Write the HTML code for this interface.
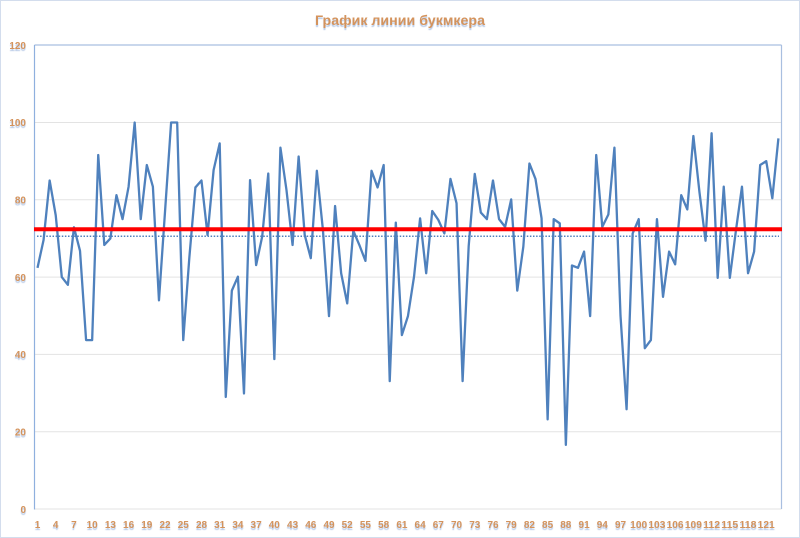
<!DOCTYPE html>
<html>
<head>
<meta charset="utf-8">
<style>
  html,body{margin:0;padding:0;background:#fff;}
  body{width:800px;height:538px;overflow:hidden;}
  svg{display:block;}
  .lbl{font-family:"Liberation Sans",sans-serif;font-weight:bold;fill:#d4935c;text-shadow:0 2px 1px rgba(120,155,210,0.55);}
</style>
</head>
<body>
<svg width="800" height="538" viewBox="0 0 800 538" xmlns="http://www.w3.org/2000/svg">
  <rect x="0.5" y="0.5" width="799" height="537" fill="#ffffff" stroke="#d3dded" stroke-width="1"/>
  <!-- title -->
  <text class="lbl" x="400" y="25" text-anchor="middle" font-size="14" textLength="170" lengthAdjust="spacingAndGlyphs">График линии букмкера</text>

  <!-- gridlines -->
  <g stroke="#e3e3e3" stroke-width="1">
    <line x1="35" y1="122.5" x2="781" y2="122.5"/>
    <line x1="35" y1="199.8" x2="781" y2="199.8"/>
    <line x1="35" y1="277.1" x2="781" y2="277.1"/>
    <line x1="35" y1="354.4" x2="781" y2="354.4"/>
    <line x1="35" y1="431.7" x2="781" y2="431.7"/>
    <line x1="35" y1="509" x2="781.5" y2="509"/>
  </g>
  <!-- plot frame -->
  <line x1="34.5" y1="45" x2="781.5" y2="45" stroke="#a9bfe0" stroke-width="1.2"/>
  <line x1="781.5" y1="45" x2="781.5" y2="509" stroke="#a9bfe0" stroke-width="1.2"/>
  <line x1="34.5" y1="45" x2="34.5" y2="509.5" stroke="#8fb0de" stroke-width="1.2"/>

  <!-- y labels -->
  <g class="lbl" font-size="10" text-anchor="end">
    <text x="26" y="49">120</text>
    <text x="26" y="126">100</text>
    <text x="26" y="203.5">80</text>
    <text x="26" y="281">60</text>
    <text x="26" y="358">40</text>
    <text x="26" y="435.5">20</text>
    <text x="26" y="513">0</text>
  </g>

  <!-- x labels -->
  <g class="lbl" font-size="10" text-anchor="middle">
    <text x="37.5" y="528">1</text>
    <text x="55.7" y="528">4</text>
    <text x="73.9" y="528">7</text>
    <text x="92.2" y="528">10</text>
    <text x="110.4" y="528">13</text>
    <text x="128.6" y="528">16</text>
    <text x="146.8" y="528">19</text>
    <text x="165.0" y="528">22</text>
    <text x="183.3" y="528">25</text>
    <text x="201.5" y="528">28</text>
    <text x="219.7" y="528">31</text>
    <text x="237.9" y="528">34</text>
    <text x="256.1" y="528">37</text>
    <text x="274.3" y="528">40</text>
    <text x="292.6" y="528">43</text>
    <text x="310.8" y="528">46</text>
    <text x="329.0" y="528">49</text>
    <text x="347.2" y="528">52</text>
    <text x="365.4" y="528">55</text>
    <text x="383.7" y="528">58</text>
    <text x="401.9" y="528">61</text>
    <text x="420.1" y="528">64</text>
    <text x="438.3" y="528">67</text>
    <text x="456.5" y="528">70</text>
    <text x="474.8" y="528">73</text>
    <text x="493.0" y="528">76</text>
    <text x="511.2" y="528">79</text>
    <text x="529.4" y="528">82</text>
    <text x="547.6" y="528">85</text>
    <text x="565.8" y="528">88</text>
    <text x="584.1" y="528">91</text>
    <text x="602.3" y="528">94</text>
    <text x="620.5" y="528">97</text>
    <text x="638.7" y="528" textLength="17" lengthAdjust="spacingAndGlyphs">100</text>
    <text x="656.9" y="528" textLength="17" lengthAdjust="spacingAndGlyphs">103</text>
    <text x="675.1" y="528" textLength="17" lengthAdjust="spacingAndGlyphs">106</text>
    <text x="693.4" y="528" textLength="17" lengthAdjust="spacingAndGlyphs">109</text>
    <text x="711.6" y="528" textLength="17" lengthAdjust="spacingAndGlyphs">112</text>
    <text x="729.8" y="528" textLength="17" lengthAdjust="spacingAndGlyphs">115</text>
    <text x="748.0" y="528" textLength="17" lengthAdjust="spacingAndGlyphs">118</text>
    <text x="766.2" y="528" textLength="17" lengthAdjust="spacingAndGlyphs">121</text>
  </g>

  <!-- data series -->
  <g transform="translate(37.5,509) scale(6.073,-3.865)">
    <polyline fill="none" stroke="#4f81bd" stroke-width="2.3" stroke-linejoin="round" vector-effect="non-scaling-stroke"
      points="0,62.4 1,69.6 2,85 3,76 4,60 5,58 6,72.9 7,66.8 8,43.7 9,43.7 10,91.6 11,68.3 12,70 13,81.2 14,75 15,83.4 16,100 17,75 18,89 19,83.4 20,54 21,77 22,100 23,100 24,43.7 25,65 26,83.2 27,85 28,70.9 29,87.7 30,94.6 31,29 32,56.5 33,60.1 34,29.9 35,85.1 36,63.1 37,70.5 38,86.8 39,38.8 40,93.5 41,82.5 42,68.3 43,91.2 44,70.9 45,64.9 46,87.5 47,72.2 48,49.9 49,78.4 50,61 51,53.2 52,72 53,68.3 54,64.2 55,87.5 56,83.2 57,89 58,33.1 59,74.1 60,45 61,49.9 62,60.1 63,75.2 64,61 65,77.1 66,74.8 67,71.3 68,85.4 69,79.1 70,33.1 71,68 72,86.7 73,76.7 74,75 75,85 76,75 77,73 78,80.1 79,56.5 80,67.9 81,89.4 82,85.4 83,75.2 84,23.2 85,75 86,73.9 87,16.6 88,63 89,62.4 90,66.6 91,49.9 92,91.6 93,73 94,76.2 95,93.5 96,50 97,25.8 98,71.3 99,75 100,41.6 101,43.7 102,75 103,54.9 104,66.6 105,63.3 106,81.2 107,77.5 108,96.5 109,82 110,69.4 111,97.2 112,59.8 113,83.4 114,59.8 115,72 116,83.4 117,61 118,66.6 119,89 120,90 121,80.4 122,95.9"/>
  </g>

  <!-- average dotted line -->
  <line x1="37" y1="236.3" x2="779" y2="236.3" stroke="#4f81bd" stroke-width="1.5" stroke-dasharray="1.5 1.6"/>
  <!-- red reference line -->
  <line x1="34" y1="229.3" x2="782" y2="229.3" stroke="#ff0000" stroke-width="4"/>
</svg>
</body>
</html>
